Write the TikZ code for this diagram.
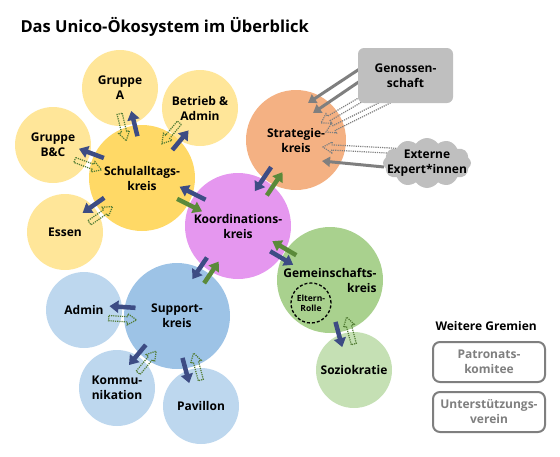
\documentclass[tikz,border=0pt]{standalone}
\usepackage{fontspec}
\setmainfont{Open Sans}
\usetikzlibrary{calc,arrows.meta,shapes.symbols}
\definecolor{gruppegelb}{HTML}{FFE699}
\definecolor{schulgelb}{HTML}{FFD966}
\definecolor{koordlila}{HTML}{E597EF}
\definecolor{strategieorange}{HTML}{F4B183}
\definecolor{gemgruen}{HTML}{A9D18E}
\definecolor{soziogruen}{HTML}{C5E0B4}
\definecolor{supportblau}{HTML}{9DC3E6}
\definecolor{hellblau}{HTML}{BDD7EE}
\definecolor{grau}{HTML}{BFBFBF}
\definecolor{dunkelgrau}{HTML}{7F7F7F}
\definecolor{pfeilblau}{HTML}{3D4C84}
\definecolor{pfeilgruen}{HTML}{5B8A3A}

% hollow block arrow from coordinate #2 to #3
\newcommand{\hollowarrow}[3][]{%
  \draw[#1] ($(#2)!2.6pt!90:(#3)$) -- ($(#3)!9pt!(#2)!2.6pt!-90:(#2)$)
    -- ($(#3)!9pt!(#2)!5.5pt!-90:(#2)$) -- (#3)
    -- ($(#3)!9pt!(#2)!5.5pt!90:(#2)$) -- ($(#3)!9pt!(#2)!2.6pt!90:(#2)$)
    -- ($(#2)!2.6pt!-90:(#3)$) -- cycle;}
% order #1 -> #2, dotted feedback #2 -> #1
\newcommand{\satellite}[2]{%
  \draw[orderarrow] ($(#1)!0.45!(#2)!5.5pt!-90:(#2)$) -- ($(#1)!0.73!(#2)!5.5pt!-90:(#2)$);
  \coordinate (fb1) at ($(#1)!0.73!(#2)!-6.5pt!-90:(#2)$);
  \coordinate (fb2) at ($(#1)!0.43!(#2)!-6.5pt!-90:(#2)$);
  \hollowarrow[feedbackarrow]{fb1}{fb2}}

\begin{document}
\begin{tikzpicture}[x=1pt,y=-1pt,
    kreis/.style={circle,inner sep=0pt,align=center,font=\bfseries\fontsize{12}{15}\selectfont},
    orderarrow/.style={color=pfeilblau,line width=4.5pt,-{Triangle[width=12pt,length=9pt]}},
    backarrow/.style={color=pfeilgruen,line width=4.5pt,-{Triangle[width=12pt,length=9pt]}},
    grayarrow/.style={color=dunkelgrau,line width=3pt,-{Triangle[width=10pt,length=8pt]}},
    feedbackarrow/.style={draw=pfeilgruen!90!black,line width=1.2pt,dash pattern=on 1.2pt off 1pt},
    grayhollow/.style={draw=dunkelgrau,line width=1.2pt,dash pattern=on 1.2pt off 1pt},
    gremium/.style={draw=dunkelgrau,line width=2pt,rounded corners=7pt,fill=white,
      minimum width=112,minimum height=40,text=dunkelgrau,align=center,
      font=\bfseries\fontsize{12}{15}\selectfont}]
  \useasboundingbox (0,0) rectangle (560,456);
  \node[anchor=base west,font=\bfseries\fontsize{16.5}{19}\selectfont] (titel) at (17,32) {Das Unico-Ökosystem im Überblick};

  % Kreise
  \node[kreis,fill=gruppegelb,minimum size=76] (grA) at (120,88) {Gruppe\\A};
  \node[kreis,fill=gruppegelb,minimum size=76] (betrieb) at (200,108) {Betrieb \&\\Admin};
  \node[kreis,fill=gruppegelb,minimum size=76] (grBC) at (53,145) {Gruppe\\B\&C};
  \node[kreis,fill=gruppegelb,minimum size=76] (essen) at (65,232) {Essen};
  \node[kreis,fill=schulgelb,minimum size=106] (schul) at (142,178) {Schulalltags-\\kreis};
  \node[kreis,fill=koordlila,minimum size=106] (koord) at (238,226) {Koordinations-\\kreis};
  \node[kreis,fill=strategieorange,minimum size=100] (strat) at (296,140) {Strategie-\\kreis};
  \node[kreis,fill=gemgruen,minimum size=106,align=right] (gem) at (330,280) {Gemeinschafts-\\kreis};
  \node[circle,draw,line width=1.3pt,dash pattern=on 3pt off 2pt,inner sep=0pt,minimum size=40,
    align=center,font=\bfseries\fontsize{8.5}{10}\selectfont] (eltern) at (311,303) {Eltern-\\Rolle};
  \node[kreis,fill=soziogruen,minimum size=76] (sozio) at (354,370) {Soziokratie};
  \node[kreis,fill=hellblau,minimum size=76] (admin) at (84,310) {Admin};
  \node[kreis,fill=hellblau,minimum size=76] (komm) at (117,388) {Kommu-\\nikation};
  \node[kreis,fill=hellblau,minimum size=76] (pavillon) at (201,406) {Pavillon};
  \node[kreis,fill=supportblau,minimum size=106] (support) at (177,316) {Support-\\kreis};

  % Pfeile zu den Unterkreisen
  \satellite{schul}{grA}
  \satellite{schul}{betrieb}
  \satellite{schul}{grBC}
  \satellite{schul}{essen}
  \satellite{support}{admin}
  \satellite{support}{komm}
  \satellite{support}{pavillon}
  \satellite{gem}{sozio}

  % Koordinationskreis
  \draw[orderarrow] ($(koord)!0.38!(schul)!9pt!-90:(schul)$) -- ($(koord)!0.65!(schul)!9pt!-90:(schul)$);
  \draw[backarrow] ($(koord)!0.62!(schul)!-3pt!-90:(schul)$) -- ($(koord)!0.36!(schul)!-3pt!-90:(schul)$);
  \draw[orderarrow] ($(koord)!0.65!(strat)!-5.5pt!-90:(strat)$) -- ($(koord)!0.37!(strat)!-5.5pt!-90:(strat)$);
  \draw[backarrow] ($(koord)!0.40!(strat)!6.8pt!-90:(strat)$) -- ($(koord)!0.67!(strat)!6.8pt!-90:(strat)$);
  \draw[orderarrow] ($(koord)!0.40!(support)!8pt!-90:(support)$) -- ($(koord)!0.64!(support)!8pt!-90:(support)$);
  \draw[backarrow] ($(koord)!0.61!(support)!-4pt!-90:(support)$) -- ($(koord)!0.37!(support)!-4pt!-90:(support)$);
  \draw[orderarrow] ($(koord)!0.38!(gem)!5.5pt!-90:(gem)$) -- ($(koord)!0.63!(gem)!5.5pt!-90:(gem)$);
  \draw[backarrow] ($(koord)!0.61!(gem)!-4.3pt!-90:(gem)$) -- ($(koord)!0.35!(gem)!-4.3pt!-90:(gem)$);

  % Genossenschaft und Externe
  \coordinate (genossmid) at (405.5,75.5);
  \coordinate (externmid) at (427,163);
  \draw[grayarrow] ($(genossmid)+(-43,-8.5)$) -- ($(strat)+(12,-37)$);
  \draw[grayarrow] ($(genossmid)+(-41,2.5)$) -- ($(strat)+(17,-27)$);
  \draw[grayarrow] ($(externmid)+(-43,4)$) -- ($(strat)+(26,21)$);
  \coordinate (g1) at ($(genossmid)+(-36,19)$);
  \coordinate (g1tip) at ($(strat)+(25,-17)$);
  \coordinate (g2) at ($(genossmid)+(-16,25)$);
  \coordinate (g2tip) at ($(strat)+(30,-8)$);
  \coordinate (g3) at ($(externmid)+(-29,-12)$);
  \coordinate (g3tip) at ($(strat)+(27,7)$);
  \hollowarrow[grayhollow]{g1}{g1tip}
  \hollowarrow[grayhollow]{g2}{g2tip}
  \hollowarrow[grayhollow]{g3}{g3tip}
  \node[fill=grau,rounded corners=6pt,minimum width=95,minimum height=55,align=center,
    font=\bfseries\fontsize{12}{15}\selectfont] (genoss) at (genossmid) {Genossen-\\schaft};
  \node[cloud,cloud puffs=12,cloud puff arc=110,aspect=1.8,fill=grau,minimum width=88,minimum height=50,inner sep=0pt,
    label={[align=center,font=\bfseries\fontsize{12}{15}\selectfont]center:Externe\\Expert*innen}] (extern) at (externmid) {};

  % Weitere Gremien
  \node[anchor=base west,font=\bfseries\fontsize{12}{15}\selectfont] (gremien) at (432,330) {Weitere Gremien};
  \node[gremium] (patronat) at (489,362) {Patronats-\\komitee};
  \node[gremium] (verein) at (489,412) {Unterstützungs-\\verein};
\end{tikzpicture}
\end{document}
